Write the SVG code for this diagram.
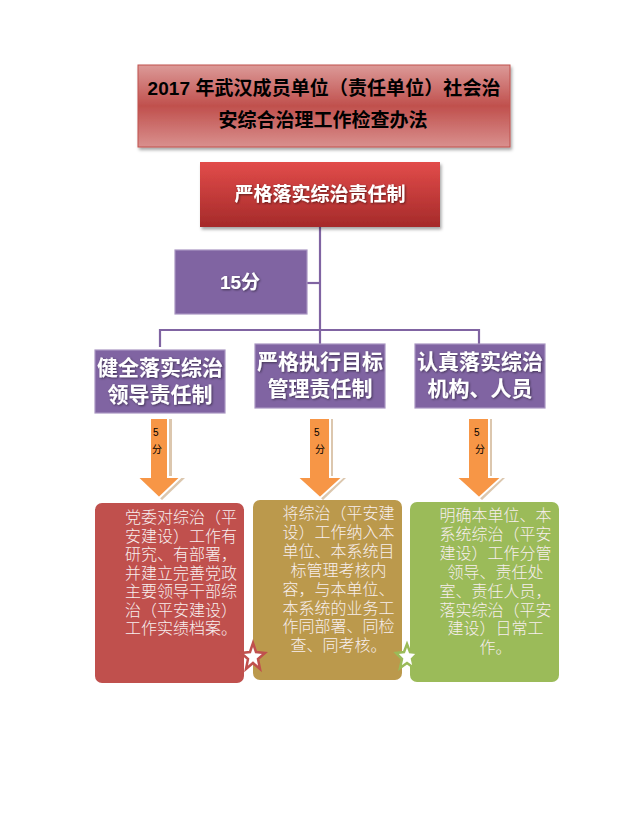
<svg xmlns="http://www.w3.org/2000/svg" width="630" height="837" viewBox="0 0 630 837">
<defs>
<linearGradient id="gTitle" x1="0" y1="0" x2="0" y2="1">
<stop offset="0" stop-color="#dc9a98"/>
<stop offset="0.5" stop-color="#c0504d"/>
<stop offset="1" stop-color="#d9908e"/>
</linearGradient>
<linearGradient id="gRed" x1="0" y1="0" x2="0" y2="1">
<stop offset="0" stop-color="#e24c4a"/>
<stop offset="1" stop-color="#a52a2a"/>
</linearGradient>
<filter id="sh" x="-10%" y="-10%" width="130%" height="140%">
<feDropShadow dx="1.5" dy="2.5" stdDeviation="1.5" flood-color="#000" flood-opacity="0.35"/>
</filter>
<filter id="tsh" x="-10%" y="-20%" width="130%" height="150%">
<feDropShadow dx="1" dy="1" stdDeviation="0.8" flood-color="#000" flood-opacity="0.5"/>
</filter>
</defs>
<style>
.cjk{font-family:"Liberation Sans","Noto Sans CJK SC",sans-serif;}
.hd{font-weight:bold;text-anchor:middle;}
.pbox{fill:#8064a2;stroke:#a995c2;stroke-width:1.2;}
.pt{fill:#fff;font-size:21px;font-weight:bold;text-anchor:middle;}
.conn{stroke:#8064a2;stroke-width:2.2;fill:none;}
.arr{fill:#f79646;stroke:#fff;stroke-width:2;}
.arrsh{fill:#dcc7ae;}
.an{fill:#000;font-size:10px;}
.bt{fill:#f7eeee;font-size:16px;font-weight:300;text-anchor:middle;}
.star{fill:#fff;stroke-width:2.5;stroke-linejoin:miter;}
</style>
<rect width="630" height="837" fill="#fff"/>

<g id="connectors">
<line class="conn" x1="320" y1="227" x2="320" y2="330"/>
<line class="conn" x1="307" y1="283" x2="320" y2="283"/>
<polyline class="conn" points="160,347 160,330 479,330 479,344"/>
<line class="conn" x1="320" y1="330" x2="320" y2="344"/>
</g>

<g id="title" class="cjk">
<rect x="138" y="65" width="372" height="82" fill="url(#gTitle)" stroke="#c0504d" stroke-width="1" filter="url(#sh)"/>
<text class="hd" x="324" y="95" font-size="19" fill="#000" textLength="353" lengthAdjust="spacing">2017 年武汉成员单位（责任单位）社会治</text>
<text class="hd" x="323" y="127" font-size="19" fill="#000">安综合治理工作检查办法</text>
</g>

<g id="main" class="cjk">
<rect x="200" y="162" width="240" height="65" fill="url(#gRed)" filter="url(#sh)"/>
<text class="hd" x="320" y="201" font-size="19" fill="#fff" filter="url(#tsh)">严格落实综治责任制</text>
</g>

<g id="score15" class="cjk">
<rect class="pbox" x="175" y="250" width="132" height="64" stroke="#c9c0d6" stroke-width="2"/>
<text class="hd" x="240" y="289" font-size="19" fill="#fff" filter="url(#tsh)">15分</text>
</g>

<g id="p1" class="cjk">
<rect class="pbox" x="95" y="350" width="130" height="63"/>
<text class="pt" x="160" y="375" filter="url(#tsh)">健全落实综治</text>
<text class="pt" x="160" y="402" filter="url(#tsh)">领导责任制</text>
</g>
<g id="p2" class="cjk">
<rect class="pbox" x="255" y="344" width="130" height="64"/>
<text class="pt" x="320" y="369" filter="url(#tsh)">严格执行目标</text>
<text class="pt" x="320" y="396" filter="url(#tsh)">管理责任制</text>
</g>
<g id="p3" class="cjk">
<rect class="pbox" x="415" y="344" width="130" height="64"/>
<text class="pt" x="480" y="369" filter="url(#tsh)">认真落实综治</text>
<text class="pt" x="480" y="396" filter="url(#tsh)">机构、人员</text>
</g>

<g id="a1" class="cjk">
<polygon class="arrsh" points="153,419 172,419 172,478 185,478 162,500 139,478 153,478"/>
<polygon class="arr" points="150,418 168,418 168,477 181,477 159,498 137,477 150,477"/>
<text class="an" x="153" y="436">5</text>
<text class="an" x="152" y="453">分</text>
</g>
<g id="a2" class="cjk">
<polygon class="arrsh" points="312,419 333,419 333,478 346,478 323,500 300,478 312,478"/>
<polygon class="arr" points="309,418 330,418 330,477 343,477 320,498 297,477 309,477"/>
<text class="an" x="314" y="436">5</text>
<text class="an" x="315" y="453">分</text>
</g>
<g id="a3" class="cjk">
<polygon class="arrsh" points="471,419 492,419 492,478 505,478 482,500 459,478 471,478"/>
<polygon class="arr" points="468,418 489,418 489,477 502,477 479,498 456,477 468,477"/>
<text class="an" x="474" y="436">5</text>
<text class="an" x="475" y="453">分</text>
</g>

<g id="b1" class="cjk">
<rect x="95" y="503" width="149" height="180" rx="7" fill="#c0504d"/>
<text class="bt" x="181" y="523">党委对综治（平</text>
<text class="bt" x="181" y="541.5">安建设）工作有</text>
<text class="bt" x="181" y="560">研究、有部署，</text>
<text class="bt" x="181" y="578.5">并建立完善党政</text>
<text class="bt" x="181" y="597">主要领导干部综</text>
<text class="bt" x="181" y="615.5">治（平安建设）</text>
<text class="bt" x="181" y="634">工作实绩档案。</text>
</g>
<g id="b2" class="cjk">
<rect x="253" y="500" width="149" height="180" rx="7" fill="#bb994c"/>
<text class="bt" x="338.5" y="519">将综治（平安建</text>
<text class="bt" x="338.5" y="537.9">设）工作纳入本</text>
<text class="bt" x="338.5" y="556.8">单位、本系统目</text>
<text class="bt" x="338.5" y="575.7">标管理考核内</text>
<text class="bt" x="338.5" y="594.6">容，与本单位、</text>
<text class="bt" x="338.5" y="613.5">本系统的业务工</text>
<text class="bt" x="338.5" y="632.4">作同部署、同检</text>
<text class="bt" x="338.5" y="651.3">查、同考核。</text>
</g>
<g id="b3" class="cjk">
<rect x="410" y="502" width="149" height="180" rx="7" fill="#9bbb59"/>
<text class="bt" x="495.5" y="521">明确本单位、本</text>
<text class="bt" x="495.5" y="539.9">系统综治（平安</text>
<text class="bt" x="495.5" y="558.8">建设）工作分管</text>
<text class="bt" x="495.5" y="577.7">领导、责任处</text>
<text class="bt" x="495.5" y="596.6">室、责任人员，</text>
<text class="bt" x="495.5" y="615.5">落实综治（平安</text>
<text class="bt" x="495.5" y="634.4">建设）日常工</text>
<text class="bt" x="495.5" y="653.3">作。</text>
</g>

<g id="stars">
<polygon class="star" stroke="#c0504d" points="253,643 256,652 265,653 258,659 260,669 253,663 246,669 248,659 241,653 250,652"/>
<polygon class="star" stroke="#9bbb59" points="407,644 410,652 418,653 412,659 414,668 407,663 400,668 402,659 396,653 404,652"/>
</g>
</svg>
